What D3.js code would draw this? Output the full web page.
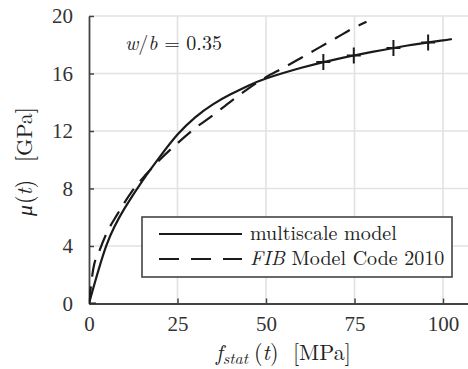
<!DOCTYPE html>
<meta charset="utf-8">
<script src="https://d3js.org/d3.v7.min.js"></script>
<style>
  body { margin: 0; background: #fff; }
  text { font-family: "Latin Modern Roman", "CMU Serif", "Liberation Serif", serif; }
</style>
<body>
<svg id="chart" width="468" height="369"></svg>
<script>
// multiscale model (solid line)
const solidF  = [0, 5, 10, 15, 20, 25, 30, 35, 40, 45, 50, 60, 70, 80, 90, 100, 102.5];
const solidMu = [0, 4.1, 6.6, 8.5, 10.2, 11.75, 12.95, 13.85, 14.55, 15.15, 15.65, 16.4, 17.0, 17.5, 17.95, 18.3, 18.4];
// markers on the solid line
const markF  = [0, 66.2, 74.8, 86, 95.8];
const markMu = [0, 16.8, 17.25, 17.77, 18.15];
// FIB Model Code 2010 (dashed line)
const dashF  = [0, 1.2, 3, 5, 8, 12, 16, 20, 25, 30, 35, 40, 45, 50, 55, 60, 65, 70, 75, 78.4];
const dashMu = [0, 2.4, 3.7, 4.9, 6.2, 7.75, 8.95, 10.0, 11.15, 12.2, 13.1, 14.05, 14.95, 15.75, 16.4, 17.1, 17.8, 18.5, 19.2, 19.6];

const xTicks = [0, 25, 50, 75, 100];
const yTicks = [0, 4, 8, 12, 16, 20];
const legendLabels = ["multiscale model", "FIB Model Code 2010"];

const svg = d3.select("#chart");
const margin = {left: 89, top: 16, right: 0, bottom: 65.5};
const W = 468 - margin.left - margin.right;
const H = 369 - margin.top - margin.bottom;

const x = d3.scaleLinear().domain([0, W / 3.54]).range([0, W]);
const y = d3.scaleLinear().domain([0, 20]).range([H, 0]);

const g = svg.append("g").attr("transform", `translate(${margin.left},${margin.top})`);

// grid
g.append("g").selectAll("line").data(xTicks.slice(1))
  .join("line")
    .attr("x1", d => x(d)).attr("x2", d => x(d))
    .attr("y1", 0).attr("y2", H)
    .style("stroke", "#e2e2e2").style("stroke-width", 1.6);
g.append("g").selectAll("line").data(yTicks.slice(1))
  .join("line")
    .attr("x1", 0).attr("x2", W)
    .attr("y1", d => y(d)).attr("y2", d => y(d))
    .style("stroke", "#e2e2e2").style("stroke-width", 1.6);

// axes
const xAxis = g.append("g").attr("transform", `translate(0,${H})`)
  .call(d3.axisBottom(x).tickValues(xTicks).tickSize(-5).tickPadding(13).tickSizeOuter(0));
const yAxis = g.append("g")
  .call(d3.axisLeft(y).tickValues(yTicks).tickSize(-5).tickPadding(16).tickSizeOuter(0));
[xAxis, yAxis].forEach(a => {
  a.select(".domain").style("stroke", "#444").style("stroke-width", 1.8);
  a.selectAll(".tick line").style("stroke", "#444").style("stroke-width", 1.5);
  a.selectAll(".tick text").style("font-size", "21px").style("fill", "#333")
    .style("font-family", "'Liberation Serif', serif");
});

// clip
svg.append("clipPath").attr("id", "clip")
  .append("rect").attr("x", 0).attr("y", 0).attr("width", W).attr("height", H);
const plot = g.append("g").attr("clip-path", "url(#clip)");

const line = d3.line().x(d => x(d[0])).y(d => y(d[1]));

plot.append("path")
  .datum(dashF.map((f, i) => [f, dashMu[i]]))
  .attr("d", line.curve(d3.curveMonotoneX))
  .style("fill", "none").style("stroke", "#1a1a1a").style("stroke-width", 2.2)
  .style("stroke-dasharray", "17,10").style("stroke-dashoffset", 0);

plot.append("path")
  .datum(solidF.map((f, i) => [f, solidMu[i]]))
  .attr("d", line.curve(d3.curveNatural))
  .style("fill", "none").style("stroke", "#1a1a1a").style("stroke-width", 2.2);

plot.append("g").selectAll("path")
  .data(markF.map((f, i) => [f, markMu[i]]))
  .join("path")
    .attr("d", d => `M${x(d[0]) - 7},${y(d[1])}H${x(d[0]) + 7}M${x(d[0])},${y(d[1]) - 8}V${y(d[1]) + 8}`)
    .style("stroke", "#1a1a1a").style("stroke-width", 2);

// annotation
g.append("text")
  .attr("x", 36).attr("y", 34)
  .style("font-size", "20px").style("fill", "#222")
  .html('<tspan font-style="italic">w</tspan>/<tspan font-style="italic">b</tspan> = 0.35');

// legend
const lg = svg.append("g").attr("transform", "translate(142,217)");
lg.append("rect").attr("width", 310).attr("height", 60)
  .style("fill", "#fff").style("stroke", "#444").style("stroke-width", 1.6);
lg.append("line").attr("x1", 17).attr("x2", 100).attr("y1", 17).attr("y2", 17)
  .style("stroke", "#1a1a1a").style("stroke-width", 2.2);
lg.append("line").attr("x1", 17).attr("x2", 100).attr("y1", 42).attr("y2", 42)
  .style("stroke", "#1a1a1a").style("stroke-width", 2.2).style("stroke-dasharray", "20,12");
lg.append("text").attr("x", 108).attr("y", 23)
  .style("font-size", "20px").style("fill", "#222").text(legendLabels[0]);
lg.append("text").attr("x", 108).attr("y", 48)
  .style("font-size", "20px").style("fill", "#222")
  .html('<tspan font-style="italic">FIB</tspan> Model Code 2010');

// axis labels
svg.append("text")
  .attr("y", 360)
  .style("font-size", "22px").style("fill", "#222")
  .html('<tspan x="216" font-style="italic">f</tspan><tspan font-style="italic" font-size="16px" dy="4">stat</tspan>' +
        '<tspan x="254" dy="-4">(</tspan><tspan font-style="italic">t</tspan>)' +
        '<tspan x="293">[MPa]</tspan>');

svg.append("text")
  .attr("transform", "translate(32,0) rotate(-90)")
  .style("font-size", "22px").style("fill", "#222")
  .html('<tspan x="-216" font-style="italic">μ</tspan><tspan x="-204">(</tspan><tspan font-style="italic">t</tspan>)' +
        '<tspan x="-162">[GPa]</tspan>');
</script>
</body>
